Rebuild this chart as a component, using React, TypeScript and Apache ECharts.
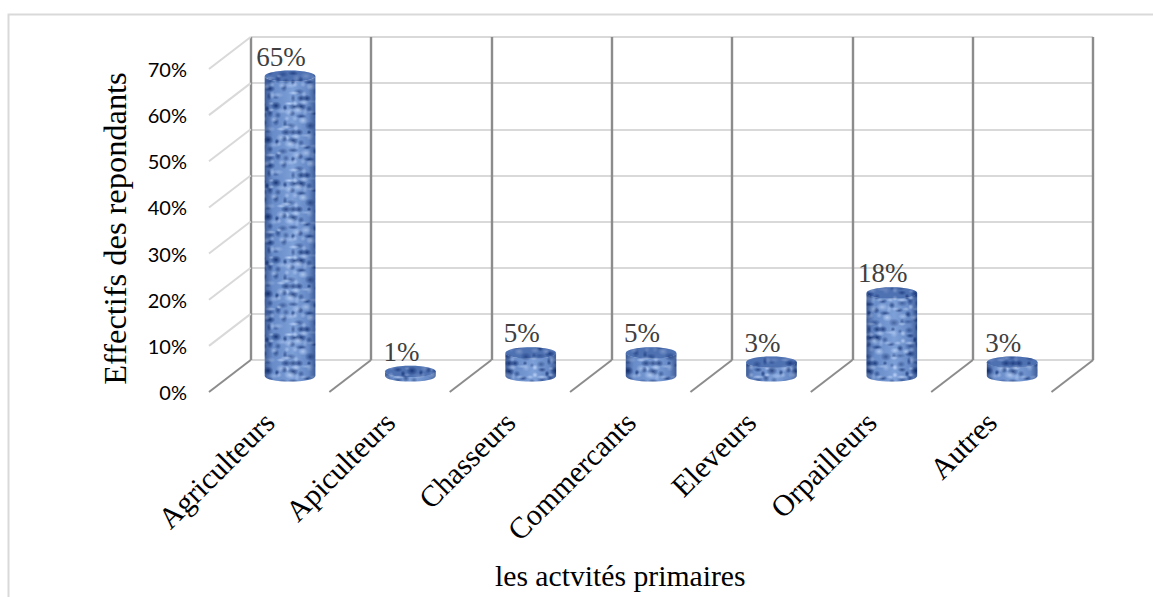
import React, { useEffect, useRef } from "react";
import * as echarts from "echarts";

const categories = ["Agriculteurs", "Apiculteurs", "Chasseurs", "Commercants", "Eleveurs", "Orpailleurs", "Autres"];
const seriesValues = [65, 1, 5, 5, 3, 18, 3];
const yTicks = [0, 10, 20, 30, 40, 50, 60, 70];
const axisTitleX = "les actvités primaires";
const axisTitleY = "Effectifs des repondants";

const SERIF = "'Liberation Serif', serif";
const SANS = "Lato, sans-serif";
const DEPTH_X = 41.7;
const DEPTH_Y = 32;
const LIGHT = "#d9d9d9";
const DARK = "#8c8c8c";

// Woven burlap tile for the cylinders, built from a fixed integer sequence.
function makeTile() {
  const cols = 9;
  const rows = 9;
  const stepX = 8;
  const stepY = 8.5;
  const canvas = document.createElement("canvas");
  canvas.width = Math.round(cols * stepX);
  canvas.height = Math.round(rows * stepY);
  const ctx = canvas.getContext("2d")!;
  ctx.fillStyle = "#7196d3";
  ctx.fillRect(0, 0, canvas.width, canvas.height);
  const spot = (x: number, y: number, rx: number, ry: number, color: string) => {
    for (const ox of [-canvas.width, 0, canvas.width]) {
      for (const oy of [-canvas.height, 0, canvas.height]) {
        ctx.save();
        ctx.translate(x + ox, y + oy);
        ctx.scale(rx, ry);
        const g = ctx.createRadialGradient(0, 0, 0, 0, 0, 1);
        g.addColorStop(0, color);
        g.addColorStop(1, color.replace(/[\d.]+\)$/, "0)"));
        ctx.fillStyle = g;
        ctx.fillRect(-1, -1, 2, 2);
        ctx.restore();
      }
    }
  };
  let h = 11;
  const next = () => {
    h = (h * 37 + 23) % 211;
    return h;
  };
  for (let r = 0; r < rows; r++) {
    for (let c = 0; c < cols; c++) {
      const a = next();
      const b = next();
      const d = next();
      if (a % 5 !== 0) {
        spot(
          (c + 0.5) * stepX + (a % 5) - 2,
          (r + 0.5) * stepY + (b % 5) - 2,
          2.5 + (b % 4),
          2.5 + (d % 3),
          `rgba(16,46,112,${0.45 + (d % 6) * 0.1})`,
        );
      }
      if (b % 4 !== 0) {
        spot(
          c * stepX + (d % 5) - 2,
          r * stepY + (a % 3) - 1,
          3 + (a % 4),
          2 + (b % 3),
          `rgba(190,214,252,${0.5 + (a % 5) * 0.1})`,
        );
      }
    }
  }
  return canvas;
}

function App() {
  const ref = useRef<HTMLDivElement>(null);
  useEffect(() => {
    const chart = echarts.init(ref.current!, null, { renderer: "svg" });
    const tile = makeTile();
    const pattern = { image: tile, repeat: "repeat" };
    const sideShade = {
      type: "linear",
      x: 0,
      y: 0,
      x2: 1,
      y2: 0,
      colorStops: [
        { offset: 0, color: "rgba(12,34,90,0.5)" },
        { offset: 0.16, color: "rgba(12,34,90,0.08)" },
        { offset: 0.55, color: "rgba(225,236,255,0.12)" },
        { offset: 0.86, color: "rgba(12,34,90,0.1)" },
        { offset: 1, color: "rgba(12,34,90,0.5)" },
      ],
    };

    const line = (x1: number, y1: number, x2: number, y2: number, color: string, width: number) => ({
      type: "line",
      shape: { x1, y1, x2, y2 },
      style: { stroke: color, lineWidth: width, fill: "none" },
    });

    chart.setOption({
      animation: false,
      backgroundColor: "#ffffff",
      graphic: [
        {
          type: "polyline",
          silent: true,
          shape: { points: [[8.5, 600], [8.5, 14.5], [1153, 14.5]] },
          style: { stroke: LIGHT, lineWidth: 2, fill: "none" },
        },
      ],
      grid: [
        { left: 250.7, top: 37, width: 842.5, height: 323 },
        { left: 209, top: 69, width: 842.5, height: 323 },
        { left: 229.85, top: 53, width: 842.5, height: 323 },
      ],
      xAxis: [
        {
          gridIndex: 0,
          type: "category",
          data: categories,
          axisLine: { show: false },
          axisTick: { show: false },
          axisLabel: { show: false },
          splitLine: { show: true, interval: 0, lineStyle: { color: DARK, width: 2.4 } },
        },
        {
          gridIndex: 1,
          type: "category",
          data: categories,
          axisLine: { show: false },
          axisTick: { show: false },
          axisLabel: {
            interval: 0,
            rotate: 45,
            margin: 25,
            fontFamily: SERIF,
            fontSize: 30,
            color: "#000000",
          },
          name: axisTitleX,
          nameLocation: "middle",
          nameGap: 169,
          nameTextStyle: { fontFamily: SERIF, fontSize: 29.7, color: "#000000", padding: [0, 20, 0, 0] },
        },
        {
          gridIndex: 2,
          type: "category",
          data: categories,
          axisLine: { show: false },
          axisTick: { show: false },
          axisLabel: { show: false },
        },
      ],
      yAxis: [
        {
          gridIndex: 0,
          type: "value",
          min: 0,
          max: 70,
          interval: 10,
          axisLine: { show: false },
          axisTick: { show: false },
          axisLabel: { show: false },
          splitLine: { show: true, lineStyle: { color: LIGHT, width: 2 } },
        },
        {
          gridIndex: 1,
          type: "value",
          min: 0,
          max: 70,
          interval: 10,
          axisLine: { show: false },
          axisTick: { show: false },
          splitLine: { show: false },
          axisLabel: {
            margin: 22,
            fontFamily: SANS,
            fontSize: 20,
            color: "#000000",
            formatter: (v: number) => `${v}%`,
          },
          name: axisTitleY,
          nameLocation: "middle",
          nameRotate: 90,
          nameGap: 78,
          nameTextStyle: { fontFamily: SERIF, fontSize: 32.4, color: "#000000", padding: [0, 0, 0, 4] },
        },
        {
          gridIndex: 2,
          type: "value",
          min: 0,
          max: 70,
          interval: 10,
          axisLine: { show: false },
          axisTick: { show: false },
          axisLabel: { show: false },
          splitLine: { show: false },
        },
      ],
      series: [
        {
          type: "custom",
          name: "side wall",
          xAxisIndex: 0,
          yAxisIndex: 0,
          silent: true,
          clip: false,
          z: 1,
          data: yTicks.map((v) => [0, v]),
          encode: { x: 0, y: 1 },
          renderItem: (_: any, api: any) => {
            const p = api.coord([0, api.value(1)]);
            const half = api.size([1, 0])[0] / 2;
            const x = p[0] - half;
            return line(x, p[1], x - DEPTH_X, p[1] + DEPTH_Y, api.value(1) === 0 ? DARK : LIGHT, 2);
          },
        },
        {
          type: "custom",
          name: "floor",
          xAxisIndex: 0,
          yAxisIndex: 0,
          silent: true,
          clip: false,
          z: 1,
          data: categories.map((_, i) => [i, 0]),
          encode: { x: 0, y: 1 },
          renderItem: (_: any, api: any) => {
            const p = api.coord([api.value(0), 0]);
            const half = api.size([1, 0])[0] / 2;
            return line(p[0] + half, p[1], p[0] + half - DEPTH_X, p[1] + DEPTH_Y, DARK, 2);
          },
        },
        {
          type: "custom",
          name: "Effectifs",
          xAxisIndex: 2,
          yAxisIndex: 2,
          silent: true,
          clip: false,
          z: 3,
          data: seriesValues.map((v, i) => [i, v]),
          encode: { x: 0, y: 1 },
          renderItem: (_: any, api: any) => {
            const value = api.value(1);
            const top = api.coord([api.value(0), value]);
            const base = api.coord([api.value(0), 0]);
            const rx = 25.3;
            const ry = 5.6;
            const cx = top[0];
            const body =
              `M${cx - rx} ${top[1]} L${cx - rx} ${base[1]} ` +
              `A${rx} ${ry} 0 0 0 ${cx + rx} ${base[1]} L${cx + rx} ${top[1]} ` +
              `A${rx} ${ry} 0 0 1 ${cx - rx} ${top[1]} Z`;
            return {
              type: "group",
              children: [
                { type: "path", shape: { pathData: body }, style: { fill: pattern, stroke: "none" } },
                { type: "path", shape: { pathData: body }, style: { fill: sideShade, stroke: "none" } },
                {
                  type: "ellipse",
                  shape: { cx, cy: top[1], rx, ry },
                  style: { fill: pattern, stroke: "none" },
                },
                {
                  type: "ellipse",
                  shape: { cx, cy: top[1], rx, ry },
                  style: { fill: "rgba(30,62,130,0.42)", stroke: "none" },
                },
                {
                  type: "text",
                  style: {
                    text: `${value}%`,
                    x: cx - 9,
                    y: top[1] - 19.5,
                    align: "center",
                    verticalAlign: "middle",
                    font: `27px ${SERIF}`,
                    fill: "#404040",
                  },
                },
              ],
            };
          },
        },
      ],
    });
    return () => chart.dispose();
  }, []);
  return <div ref={ref} style={{ position: "absolute", left: 0, top: 0, width: 1153, height: 597 }} />;
}

export default App;
